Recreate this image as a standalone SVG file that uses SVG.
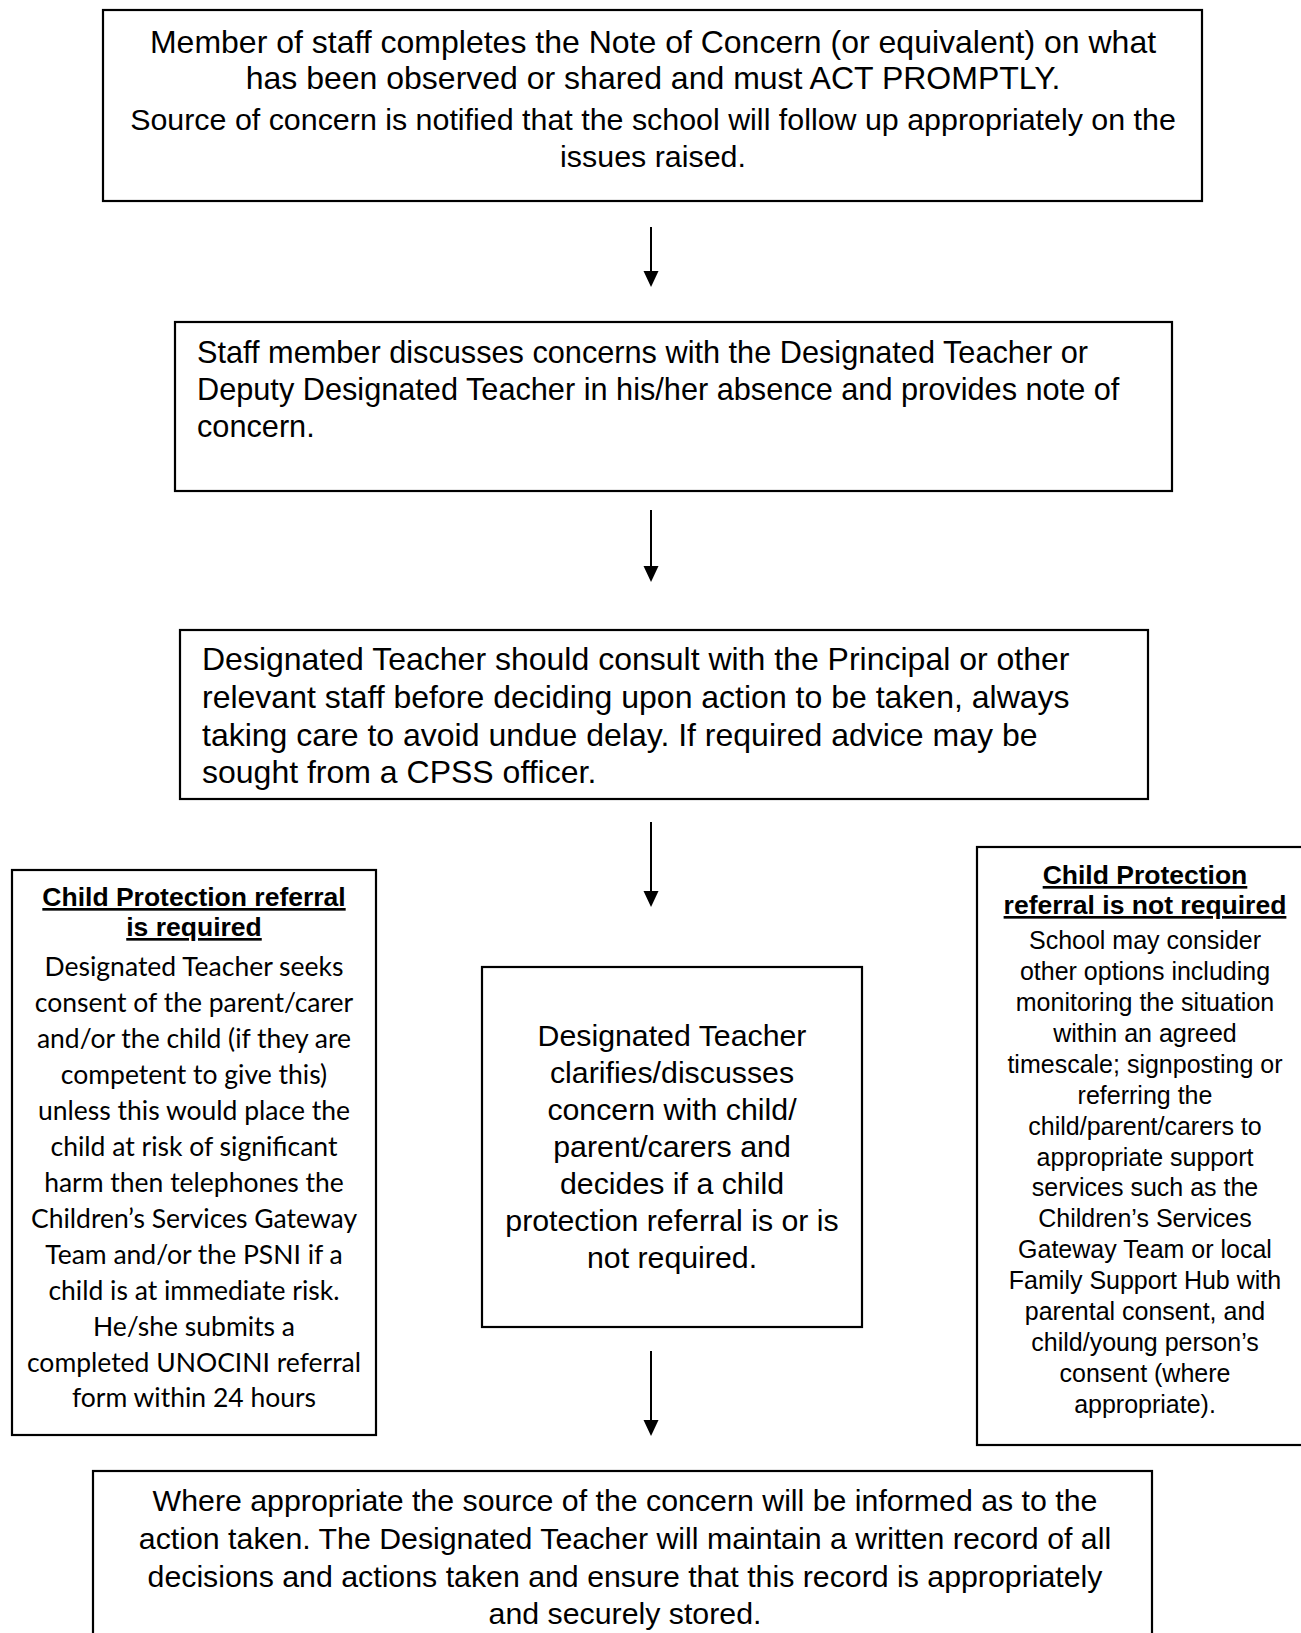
<svg xmlns="http://www.w3.org/2000/svg" width="1301" height="1633" viewBox="0 0 1301 1633">
<defs>
<style>
.box{fill:#fff;stroke:#000;stroke-width:2.2}
.ar{font-family:"Liberation Sans",Arial,sans-serif;fill:#000}
.cal{font-family:Lato,"Open Sans",sans-serif;fill:#000}
.ttl{font-family:"Liberation Sans",Arial,sans-serif;font-weight:bold;font-size:26.5px;text-decoration:underline;fill:#000}
.mid{text-anchor:middle}
.conn{stroke:#000;stroke-width:2;fill:none;marker-end:url(#ah)}
</style>
<marker id="ah" markerUnits="userSpaceOnUse" markerWidth="18" markerHeight="16" refX="2" refY="7.5" orient="auto">
<path d="M0,0 L16,7.5 L0,15 z" fill="#000"/>
</marker>
</defs>
<rect width="1301" height="1633" fill="#fff"/>

<g id="node-note">
<rect class="box" x="103" y="10" width="1099" height="191"/>
<g class="ar mid">
<text x="653" y="53" font-size="32">Member of staff completes the Note of Concern (or equivalent) on what</text>
<text x="653" y="89" font-size="32">has been observed or shared and must ACT PROMPTLY.</text>
<text x="653" y="130" font-size="30.4">Source of concern is notified that the school will follow up appropriately on the</text>
<text x="653" y="167" font-size="30.4">issues raised.</text>
</g>
</g>

<g id="node-discuss">
<rect class="box" x="175" y="322" width="997" height="169"/>
<g class="ar" font-size="30.7">
<text x="197" y="363">Staff member discusses concerns with the Designated Teacher or</text>
<text x="197" y="400">Deputy Designated Teacher in his/her absence and provides note of</text>
<text x="197" y="437">concern.</text>
</g>
</g>

<g id="node-consult">
<rect class="box" x="180" y="630" width="968" height="169"/>
<g class="ar" font-size="32">
<text x="202" y="670">Designated Teacher should consult with the Principal or other</text>
<text x="202" y="708">relevant staff before deciding upon action to be taken, always</text>
<text x="202" y="746">taking care to avoid undue delay. If required advice may be</text>
<text x="202" y="783">sought from a CPSS officer.</text>
</g>
</g>

<g id="node-required">
<rect class="box" x="12" y="870" width="364" height="565"/>
<text class="ttl mid" x="194" y="906">Child Protection referral</text>
<text class="ttl mid" x="194" y="936">is required</text>
<g class="cal mid" font-size="26.5">
<text x="194" y="976">Designated Teacher seeks</text>
<text x="194" y="1012">consent of the parent/carer</text>
<text x="194" y="1048">and/or the child (if they are</text>
<text x="194" y="1084">competent to give this)</text>
<text x="194" y="1120">unless this would place the</text>
<text x="194" y="1156">child at risk of significant</text>
<text x="194" y="1192">harm then telephones the</text>
<text x="194" y="1228">Children’s Services Gateway</text>
<text x="194" y="1264">Team and/or the PSNI if a</text>
<text x="194" y="1300">child is at immediate risk.</text>
<text x="194" y="1336">He/she submits a</text>
<text x="194" y="1372">completed UNOCINI referral</text>
<text x="194" y="1407">form within 24 hours</text>
</g>
</g>

<g id="node-clarify">
<rect class="box" x="482" y="967" width="380" height="360"/>
<g class="ar mid" font-size="30.3">
<text x="672" y="1046">Designated Teacher</text>
<text x="672" y="1083">clarifies/discusses</text>
<text x="672" y="1120">concern with child/</text>
<text x="672" y="1157">parent/carers and</text>
<text x="672" y="1194">decides if a child</text>
<text x="672" y="1231">protection referral is or is</text>
<text x="672" y="1268">not required.</text>
</g>
</g>

<g id="node-not-required">
<rect class="box" x="977" y="847" width="340" height="598"/>
<text class="ttl mid" x="1145" y="884">Child Protection</text>
<text class="ttl mid" x="1145" y="914">referral is not required</text>
<g class="ar mid" font-size="25">
<text x="1145" y="949">School may consider</text>
<text x="1145" y="980">other options including</text>
<text x="1145" y="1011">monitoring the situation</text>
<text x="1145" y="1042">within an agreed</text>
<text x="1145" y="1073">timescale; signposting or</text>
<text x="1145" y="1104">referring the</text>
<text x="1145" y="1135">child/parent/carers to</text>
<text x="1145" y="1166">appropriate support</text>
<text x="1145" y="1196">services such as the</text>
<text x="1145" y="1227">Children’s Services</text>
<text x="1145" y="1258">Gateway Team or local</text>
<text x="1145" y="1289">Family Support Hub with</text>
<text x="1145" y="1320">parental consent, and</text>
<text x="1145" y="1351">child/young person’s</text>
<text x="1145" y="1382">consent (where</text>
<text x="1145" y="1413">appropriate).</text>
</g>
</g>

<g id="node-record">
<rect class="box" x="93" y="1471" width="1059" height="180"/>
<g class="ar mid" font-size="30.3">
<text x="625" y="1511">Where appropriate the source of the concern will be informed as to the</text>
<text x="625" y="1549">action taken. The Designated Teacher will maintain a written record of all</text>
<text x="625" y="1587">decisions and actions taken and ensure that this record is appropriately</text>
<text x="625" y="1624">and securely stored.</text>
</g>
</g>

<g id="connectors">
<line class="conn" x1="651" y1="227" x2="651" y2="273"/>
<line class="conn" x1="651" y1="510" x2="651" y2="568"/>
<line class="conn" x1="651" y1="822" x2="651" y2="893"/>
<line class="conn" x1="651" y1="1351" x2="651" y2="1422"/>
</g>
</svg>
